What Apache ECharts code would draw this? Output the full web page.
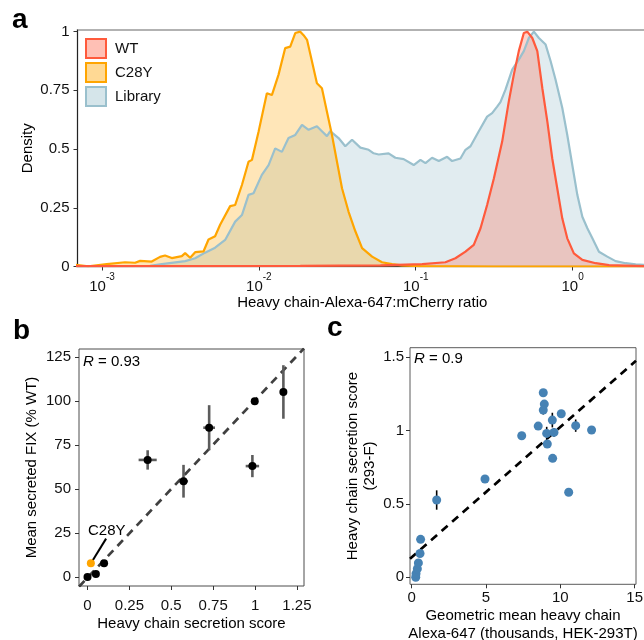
<!DOCTYPE html>
<html>
<head>
<meta charset="utf-8">
<script src="https://cdn.jsdelivr.net/npm/echarts@6/dist/echarts.min.js"></script>
<style>
  html, body { margin: 0; padding: 0; background: #fff; }
  #chart { width: 644px; height: 640px; }
</style>
</head>
<body>
<div id="chart"></div>
<script>
// ---- Panel a: density of heavy chain-Alexa-647:mCherry ratio ----
// each pair: [log10 ratio, scaled density]
const wtDensity = [
  [-3.172,0.002],[-2.5,0.002],[-1.736,0.003],[-1.225,0.005],[-0.959,0.010],[-0.811,0.018],
  [-0.747,0.035],[-0.683,0.063],[-0.630,0.092],[-0.587,0.163],[-0.545,0.262],[-0.502,0.375],
  [-0.449,0.532],[-0.407,0.702],[-0.375,0.816],[-0.343,0.917],[-0.311,0.994],[-0.289,1.000],
  [-0.257,0.973],[-0.225,0.917],[-0.193,0.759],[-0.161,0.617],[-0.130,0.461],[-0.098,0.333],
  [-0.066,0.205],[-0.034,0.120],[0.008,0.056],[0.062,0.028],[0.147,0.014],[0.232,0.006],[0.480,0.001]
];
const c28yDensity = [
  [-3.172,0.007],[-3.087,0.001],[-2.970,0.010],[-2.853,0.018],[-2.789,0.016],[-2.757,0.024],
  [-2.683,0.021],[-2.630,0.041],[-2.598,0.047],[-2.555,0.036],[-2.491,0.044],[-2.470,0.057],
  [-2.438,0.037],[-2.406,0.061],[-2.353,0.064],[-2.321,0.115],[-2.279,0.129],[-2.247,0.178],
  [-2.183,0.257],[-2.151,0.262],[-2.108,0.347],[-2.066,0.446],[-2.044,0.454],[-2.002,0.574],
  [-1.949,0.738],[-1.917,0.730],[-1.875,0.816],[-1.832,0.930],[-1.800,0.936],[-1.768,0.994],
  [-1.736,1.000],[-1.715,0.985],[-1.693,0.965],[-1.661,0.872],[-1.630,0.780],[-1.598,0.759],
  [-1.566,0.659],[-1.534,0.560],[-1.502,0.446],[-1.470,0.333],[-1.428,0.233],[-1.385,0.150],
  [-1.342,0.078],[-1.278,0.042],[-1.215,0.018],[-1.151,0.010],[-1.087,0.005],[-0.970,0.002],
  [-0.500,0.000],[0.480,0.000]
];
const libraryDensity = [
  [-3.172,0.000],[-2.694,0.003],[-2.619,0.010],[-2.470,0.023],[-2.406,0.035],[-2.343,0.059],
  [-2.279,0.080],[-2.215,0.113],[-2.151,0.191],[-2.108,0.219],[-2.066,0.305],[-2.034,0.312],
  [-1.981,0.390],[-1.938,0.432],[-1.896,0.503],[-1.853,0.488],[-1.811,0.547],[-1.768,0.560],
  [-1.725,0.603],[-1.683,0.582],[-1.630,0.597],[-1.598,0.576],[-1.566,0.555],[-1.545,0.576],
  [-1.492,0.547],[-1.449,0.512],[-1.406,0.540],[-1.353,0.506],[-1.300,0.497],[-1.268,0.482],
  [-1.236,0.477],[-1.173,0.482],[-1.130,0.463],[-1.077,0.457],[-1.013,0.432],[-0.970,0.454],
  [-0.938,0.440],[-0.896,0.463],[-0.853,0.449],[-0.800,0.467],[-0.768,0.449],[-0.715,0.460],
  [-0.683,0.497],[-0.651,0.512],[-0.598,0.576],[-0.545,0.638],[-0.513,0.653],[-0.481,0.681],
  [-0.460,0.700],[-0.428,0.753],[-0.385,0.838],[-0.343,0.881],[-0.311,0.917],[-0.279,0.973],
  [-0.247,1.000],[-0.215,0.973],[-0.172,0.945],[-0.140,0.874],[-0.109,0.796],[-0.066,0.676],
  [-0.034,0.560],[-0.002,0.432],[0.030,0.305],[0.062,0.212],[0.094,0.163],[0.126,0.120],
  [0.168,0.063],[0.221,0.042],[0.274,0.023],[0.338,0.014],[0.402,0.009],[0.480,0.006]
];
const ratioTicks = [0.001, 0.01, 0.1, 1];
const densityTicks = [0, 0.25, 0.5, 0.75, 1];

// ---- Panel b: secretion score vs secreted FIX ----
const bScore    = [0.000, 0.050, 0.099, 0.359, 0.573, 0.726, 0.998, 0.984, 1.169];
const bScoreErr = [0, 0, 0, 0.054, 0.027, 0.035, 0, 0.040, 0];
const bFix      = [0.0, 1.7, 7.8, 66.5, 54.4, 84.8, 99.8, 63.0, 105.1];
const bFixErr   = [0, 0, 0, 5.5, 9.3, 12.8, 0, 6.3, 15.2];
const c28yPoint = [0.020, 7.8];
const c28yCallout = [[0.111, 21.8], [0.028, 8.9]];
const c28yLabelAt = [0.115, 26.3];
const bFit = { slope: 100.8, intercept: -0.4 };
const bScoreTicks = [0, 0.25, 0.5, 0.75, 1, 1.25];
const bFixTicks = [0, 25, 50, 75, 100, 125];

// ---- Panel c: HEK-293T Alexa-647 vs 293-F secretion score ----
const cMean     = [0.27, 0.29, 0.38, 0.45, 0.56, 0.60, 1.68, 4.93, 7.40, 8.51, 8.85, 8.92, 8.85,
                   9.46, 10.06, 9.08, 9.57, 9.12, 9.48, 11.03, 12.10, 10.56];
const cScore    = [0.000, 0.025, 0.058, 0.098, 0.162, 0.259, 0.527, 0.670, 0.965, 1.031, 1.258, 1.181, 1.140,
                   1.072, 1.115, 0.981, 0.988, 0.909, 0.811, 1.034, 1.004, 0.580];
const cScoreErr = [0, 0, 0, 0, 0, 0, 0.066, 0, 0, 0, 0, 0, 0.03,
                   0.05, 0, 0.045, 0.03, 0, 0, 0.042, 0, 0];
const cFit = { slope: 0.0888, intercept: 0.137 };
const cMeanTicks = [0, 5, 10, 15];
const cScoreTicks = [0, 0.5, 1, 1.5];

const FONT = 'Liberation Sans, Arial, Helvetica, sans-serif';
const toRatio = arr => arr.map(p => [Math.pow(10, p[0]), p[1]]);

const bAxisRange = [-0.0507, 1.292];
const cAxisRange = [-0.114, 15.087];

function errorBars(xs, ys, exs, eys, color, width) {
  return {
    type: 'custom',
    data: xs.map((x, i) => [x, ys[i], exs[i], eys[i]]),
    renderItem: function (params, api) {
      const x = api.value(0), y = api.value(1), ex = api.value(2), ey = api.value(3);
      const children = [];
      const st = { stroke: color, lineWidth: width };
      if (ey > 0) {
        const a = api.coord([x, y - ey]), b = api.coord([x, y + ey]);
        children.push({ type: 'line', shape: { x1: a[0], y1: a[1], x2: b[0], y2: b[1] }, style: st });
      }
      if (ex > 0) {
        const a = api.coord([x - ex, y]), b = api.coord([x + ex, y]);
        children.push({ type: 'line', shape: { x1: a[0], y1: a[1], x2: b[0], y2: b[1] }, style: st });
      }
      return { type: 'group', children: children };
    },
    z: 2
  };
}

const tickStyle = { show: true, inside: false, length: 4, lineStyle: { color: '#333', width: 1 } };
const labelStyle = { color: '#111', fontSize: 15, fontFamily: FONT };
const nameStyle = { color: '#000', fontSize: 15, fontFamily: FONT };
// boxed panels: axes sit on the panel edge, not at zero
const boxAxisLine = { show: false, onZero: false };

const WT_COLOR = '#FF5A3C', C28Y_COLOR = '#FFA500', LIB_COLOR = '#9AC0CD';

const option = {
  animation: false,
  textStyle: { fontFamily: FONT },
  grid: [
    { left: 77.5, right: -3, top: 30, bottom: 373.5, show: true, borderColor: '#999', borderWidth: 1.5, outerBoundsMode: 'none' },
    { left: 79, right: 340, top: 349, bottom: 54, show: true, borderColor: '#4d4d4d', borderWidth: 1, outerBoundsMode: 'none' },
    { left: 410, right: 8, top: 347.7, bottom: 55.7, show: true, borderColor: '#5a5a5a', borderWidth: 1, outerBoundsMode: 'none' }
  ],
  legend: {
    left: 80, top: 33, orient: 'vertical', icon: 'rect',
    itemWidth: 20, itemHeight: 19, itemGap: 3,
    textStyle: { fontSize: 15, color: '#111', fontFamily: FONT, padding: [0, 0, 0, 4] },
    data: [
      { name: 'WT', itemStyle: { color: 'rgba(255,90,60,0.38)', borderColor: WT_COLOR, borderWidth: 2 } },
      { name: 'C28Y', itemStyle: { color: 'rgba(255,165,0,0.42)', borderColor: C28Y_COLOR, borderWidth: 2 } },
      { name: 'Library', itemStyle: { color: 'rgba(154,192,205,0.42)', borderColor: LIB_COLOR, borderWidth: 2 } }
    ]
  },
  xAxis: [
    {
      type: 'log', gridIndex: 0, logBase: 10, min: 0.000698, max: 2.98,
      axisLine: { show: true, onZero: false, lineStyle: { color: '#222', width: 1 } },
      axisTick: Object.assign({}, tickStyle, { customValues: ratioTicks }),
      axisLabel: {
        customValues: ratioTicks, margin: 6,
        formatter: v => '{b|10}{s|' + Math.round(Math.log10(v)) + '}',
        rich: {
          b: { fontSize: 15, color: '#111', fontFamily: FONT, lineHeight: 22, verticalAlign: 'bottom' },
          s: { fontSize: 10, color: '#111', fontFamily: FONT, lineHeight: 12, verticalAlign: 'top' }
        }
      },
      splitLine: { show: false },
      name: 'Heavy chain-Alexa-647:mCherry ratio', nameLocation: 'middle', nameGap: 28,
      nameTextStyle: nameStyle
    },
    {
      type: 'value', gridIndex: 1, min: bAxisRange[0], max: bAxisRange[1],
      axisLine: boxAxisLine,
      axisTick: Object.assign({}, tickStyle, { customValues: bScoreTicks }),
      axisLabel: Object.assign({}, labelStyle, { customValues: bScoreTicks, margin: 12 }),
      splitLine: { show: false },
      name: 'Heavy chain secretion score', nameLocation: 'middle', nameGap: 30,
      nameTextStyle: nameStyle
    },
    {
      type: 'value', gridIndex: 2, min: cAxisRange[0], max: cAxisRange[1],
      axisLine: boxAxisLine,
      axisTick: Object.assign({}, tickStyle, { customValues: cMeanTicks }),
      axisLabel: Object.assign({}, labelStyle, { customValues: cMeanTicks, margin: 6 }),
      splitLine: { show: false },
      name: 'Geometric mean heavy chain\nAlexa-647 (thousands, HEK-293T)', nameLocation: 'middle', nameGap: 22,
      nameTextStyle: Object.assign({}, nameStyle, { lineHeight: 18.5 })
    }
  ],
  yAxis: [
    {
      type: 'value', gridIndex: 0, min: 0, max: 1.007,
      axisLine: { show: true, onZero: false, lineStyle: { color: '#222', width: 1 } },
      axisTick: Object.assign({}, tickStyle, { customValues: densityTicks }),
      axisLabel: Object.assign({}, labelStyle, { customValues: densityTicks, margin: 8 }),
      splitLine: { show: false },
      name: 'Density', nameLocation: 'middle', nameGap: 42.5, nameMoveOverlap: false,
      nameTextStyle: nameStyle
    },
    {
      type: 'value', gridIndex: 1, min: -5.1, max: 129.5,
      axisLine: boxAxisLine,
      axisTick: Object.assign({}, tickStyle, { customValues: bFixTicks }),
      axisLabel: Object.assign({}, labelStyle, { customValues: bFixTicks, margin: 8 }),
      splitLine: { show: false },
      name: 'Mean secreted FIX (% WT)', nameLocation: 'middle', nameGap: 40, nameMoveOverlap: false,
      nameTextStyle: nameStyle
    },
    {
      type: 'value', gridIndex: 2, min: -0.0477, max: 1.5655,
      axisLine: boxAxisLine,
      axisTick: Object.assign({}, tickStyle, { customValues: cScoreTicks }),
      axisLabel: Object.assign({}, labelStyle, { customValues: cScoreTicks, margin: 6 }),
      splitLine: { show: false },
      name: 'Heavy chain secretion score\n(293-F)', nameLocation: 'middle', nameGap: 32, nameMoveOverlap: false,
      nameTextStyle: Object.assign({}, nameStyle, { lineHeight: 17 })
    }
  ],
  series: [
    // panel a
    {
      name: 'Library', type: 'line', xAxisIndex: 0, yAxisIndex: 0, data: toRatio(libraryDensity),
      showSymbol: false, symbol: 'none', color: LIB_COLOR,
      lineStyle: { color: LIB_COLOR, width: 2.2 }, areaStyle: { color: 'rgba(154,192,205,0.42)' }
    },
    {
      name: 'C28Y', type: 'line', xAxisIndex: 0, yAxisIndex: 0, data: toRatio(c28yDensity),
      showSymbol: false, symbol: 'none', color: C28Y_COLOR,
      lineStyle: { color: C28Y_COLOR, width: 2.2 }, areaStyle: { color: 'rgba(255,165,0,0.4)' }
    },
    {
      name: 'WT', type: 'line', xAxisIndex: 0, yAxisIndex: 0, data: toRatio(wtDensity),
      showSymbol: false, symbol: 'none', color: WT_COLOR,
      lineStyle: { color: WT_COLOR, width: 2.2 }, areaStyle: { color: 'rgba(255,90,60,0.38)' }
    },
    // panel b
    {
      type: 'line', xAxisIndex: 1, yAxisIndex: 1, symbol: 'none', silent: true,
      data: bAxisRange.map(x => [x, bFit.slope * x + bFit.intercept]),
      lineStyle: { color: '#404040', width: 2.7, type: [8, 6] }, z: 1
    },
    Object.assign(errorBars(bScore, bFix, bScoreErr, bFixErr, '#5c5c5c', 2.6), { xAxisIndex: 1, yAxisIndex: 1 }),
    {
      type: 'scatter', xAxisIndex: 1, yAxisIndex: 1, symbolSize: 8,
      data: bScore.map((x, i) => [x, bFix[i]]), itemStyle: { color: '#000', opacity: 1 }, z: 3
    },
    {
      type: 'line', xAxisIndex: 1, yAxisIndex: 1, symbol: 'none', data: c28yCallout,
      lineStyle: { color: '#000', width: 2 }, z: 3
    },
    {
      type: 'scatter', xAxisIndex: 1, yAxisIndex: 1, symbolSize: 8,
      data: [c28yPoint], itemStyle: { color: C28Y_COLOR, opacity: 1 }, z: 4
    },
    {
      type: 'scatter', xAxisIndex: 1, yAxisIndex: 1, symbolSize: 0, silent: true,
      data: [c28yLabelAt], itemStyle: { opacity: 1 },
      label: {
        show: true, position: 'inside', formatter: 'C28Y', fontSize: 15, color: '#000',
        fontFamily: FONT, textBorderWidth: 0, opacity: 1
      },
      z: 5
    },
    // panel c
    {
      type: 'line', xAxisIndex: 2, yAxisIndex: 2, symbol: 'none', silent: true,
      data: cAxisRange.map(x => [x, cFit.slope * x + cFit.intercept]),
      lineStyle: { color: '#000', width: 2.7, type: [8, 6] }, z: 1
    },
    Object.assign(errorBars(cMean, cScore, cMean.map(() => 0), cScoreErr, '#000', 1.6), { xAxisIndex: 2, yAxisIndex: 2 }),
    {
      type: 'scatter', xAxisIndex: 2, yAxisIndex: 2, symbolSize: 9,
      data: cMean.map((x, i) => [x, cScore[i]]), itemStyle: { color: '#4682B4', opacity: 1 }, z: 3
    }
  ],
  graphic: [
    { type: 'text', left: 12, top: 6, style: { text: 'a', fontSize: 28, fontWeight: 'bold', fill: '#000', fontFamily: FONT } },
    { type: 'text', left: 13, top: 317, style: { text: 'b', fontSize: 28, fontWeight: 'bold', fill: '#000', fontFamily: FONT } },
    { type: 'text', left: 327, top: 314, style: { text: 'c', fontSize: 28, fontWeight: 'bold', fill: '#000', fontFamily: FONT } },
    { type: 'text', left: 83, top: 354, style: {
        text: '{i|R} = 0.93', fontSize: 15, fill: '#000', fontFamily: FONT,
        rich: { i: { fontStyle: 'italic', fontSize: 15, fontFamily: FONT, fill: '#000' } } } },
    { type: 'text', left: 414, top: 351, style: {
        text: '{i|R} = 0.9', fontSize: 15, fill: '#000', fontFamily: FONT,
        rich: { i: { fontStyle: 'italic', fontSize: 15, fontFamily: FONT, fill: '#000' } } } }
  ]
};

const chart = echarts.init(document.getElementById('chart'), null, { renderer: 'canvas' });
chart.setOption(option);
</script>
</body>
</html>
